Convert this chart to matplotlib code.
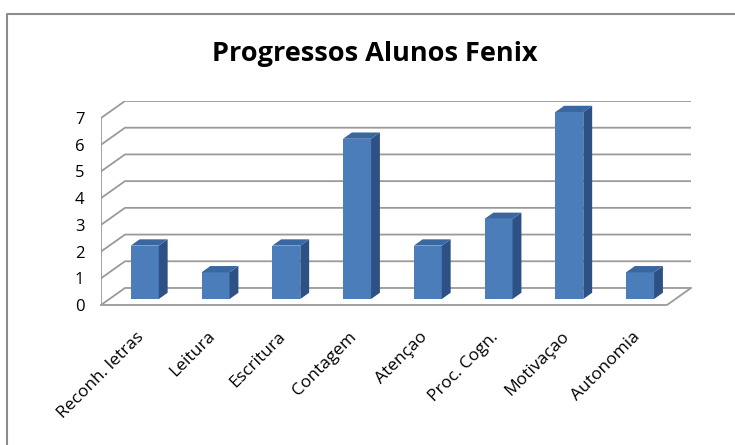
import matplotlib.pyplot as plt
from matplotlib.patches import Polygon
from matplotlib.lines import Line2D

plt.rcParams['font.family'] = ['Open Sans', 'DejaVu Sans']

categorias = ['Reconh. letras', 'Leitura', 'Escritura', 'Contagem',
              'Atençao', 'Proc. Cogn.', 'Motivaçao', 'Autonomia']
valores = [2, 1, 2, 6, 2, 3, 7, 1]
y_ticks = [0, 1, 2, 3, 4, 5, 6, 7]

# pseudo 3d depth, in data units
dx, dy = 0.339, 0.637
largura = 0.396
prof0, prof1 = 0.35, 0.72

c_frente = '#4A7DBA'
c_lado = '#2D5184'
c_topo = '#3B67A0'
c_grade = '#9A9A9A'

fig = plt.figure(figsize=(7.35, 4.45), dpi=100)
ax = fig.add_axes([101/735, 140/445, 590/735, 204/445])
n = len(categorias)
ymax = y_ticks[-1]
ax.set_xlim(-0.5, n - 0.5 + dx)
ax.set_ylim(0, ymax + dy)

# walls / grid
for k in y_ticks:
    ax.plot([-0.5, -0.5 + dx, n - 0.5 + dx], [k, k + dy, k + dy],
            color=c_grade, lw=1.3, zorder=1, solid_capstyle='butt')
ax.plot([-0.5, -0.5], [0, ymax], color=c_grade, lw=1.3, zorder=1)
ax.plot([-0.5, n - 0.5, n - 0.5 + dx], [0, 0, dy], color=c_grade, lw=1.3,
        zorder=1, clip_on=False)

# bars
for i, v in enumerate(valores):
    x0 = i - largura / 2 + prof0 * dx
    x1 = x0 + largura
    b = prof0 * dy
    sx = (prof1 - prof0) * dx
    sy = (prof1 - prof0) * dy
    ax.add_patch(Polygon([(x0, b), (x1, b), (x1, b + v), (x0, b + v)],
                         closed=True, fc=c_frente, ec='none', zorder=3))
    ax.add_patch(Polygon([(x1, b), (x1 + sx, b + sy), (x1 + sx, b + v + sy), (x1, b + v)],
                         closed=True, fc=c_lado, ec='none', zorder=3))
    ax.add_patch(Polygon([(x0, b + v), (x1, b + v), (x1 + sx, b + v + sy), (x0 + sx, b + v + sy)],
                         closed=True, fc=c_topo, ec='none', zorder=3))

for s in ax.spines.values():
    s.set_visible(False)
ax.set_yticks(y_ticks)
ax.set_yticklabels([str(t) for t in y_ticks], fontsize=12)
ax.set_xticks(range(n))
ax.set_xticklabels(categorias, rotation=45, ha='right', va='top',
                   rotation_mode='anchor', fontsize=12.5)
ax.tick_params(axis='y', length=0, pad=12)
ax.tick_params(axis='x', length=0, pad=17)

fig.text(0.51, 1 - 54/445, 'Progressos Alunos Fenix', ha='center', va='center',
         fontsize=19.5, fontweight='bold')

fig.add_artist(Line2D([7/735, 7/735, 1], [0, 1 - 14/445, 1 - 14/445],
                      transform=fig.transFigure, color='#8C8C8C', lw=1.5))

fig.savefig('out.png', dpi=100)
